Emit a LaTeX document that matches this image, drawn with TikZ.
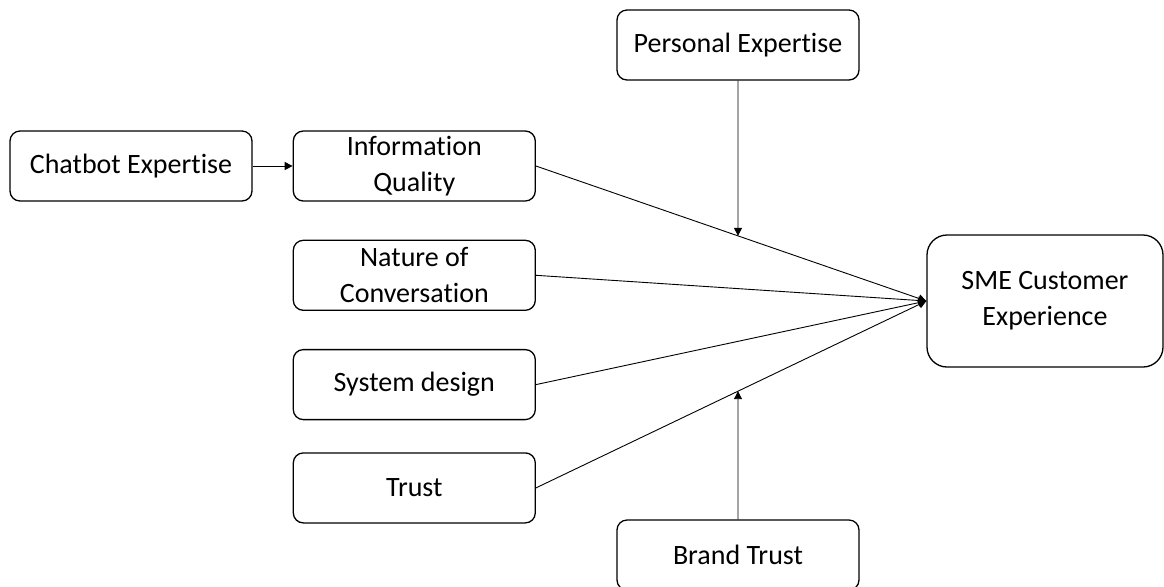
\documentclass[tikz,border=0pt]{standalone}
\usepackage{fontspec}
\setmainfont[Ligatures=NoCommon]{Carlito}
\usetikzlibrary{positioning,arrows.meta,intersections}
\tikzstyle{factor} = [draw, line width=0.65pt, rounded corners=5pt, minimum width=121pt, minimum height=35pt, align=center, inner sep=2pt, font=\fontsize{14}{18}\selectfont]
\tikzstyle{outcome} = [factor, rounded corners=10pt, minimum width=118pt, minimum height=66pt]
\tikzstyle{line} = [draw, line width=0.45pt, -{Triangle[length=4pt,width=4pt]}]

\begin{document}
\begin{tikzpicture}[node distance=19pt]
  \useasboundingbox (0,0) rectangle (582pt,-293pt);
  \node[factor] (chatbot) at (65.5pt,-83pt) {Chatbot Expertise};
  \node[factor, right=20pt of chatbot] (info) {Information\\Quality};
  \node[factor, below=of info] (nature) {Nature of\\Conversation};
  \node[factor, below=of nature] (system) {System design};
  \node[factor, below=16pt of system] (trust) {Trust};
  \node[factor] (personal) at (369pt,-22.5pt) {Personal Expertise};
  \node[factor] (brand) at (369pt,-277.5pt) {Brand Trust};
  \node[outcome] (sme) at (522.5pt,-150.5pt) {SME Customer\\Experience};
  \path [line] (chatbot) -- (info);
  % the four drivers all meet at the outcome
  \path [line, name path=iqline] (info.east) -- (sme.west);
  \path [line] (nature.east) -- (sme.west);
  \path [line] (system.east) -- (sme.west);
  \path [line, name path=trline] (trust.east) -- (sme.west);
  % moderators point onto the first and last link
  \path [name path=modline] (personal.south) -- (brand.north);
  \path [name intersections={of=iqline and modline, by=pejoin}];
  \path [name intersections={of=trline and modline, by=btjoin}];
  \path [line] (personal) -- (pejoin);
  \path [line] (brand) -- (btjoin);
\end{tikzpicture}
\end{document}
